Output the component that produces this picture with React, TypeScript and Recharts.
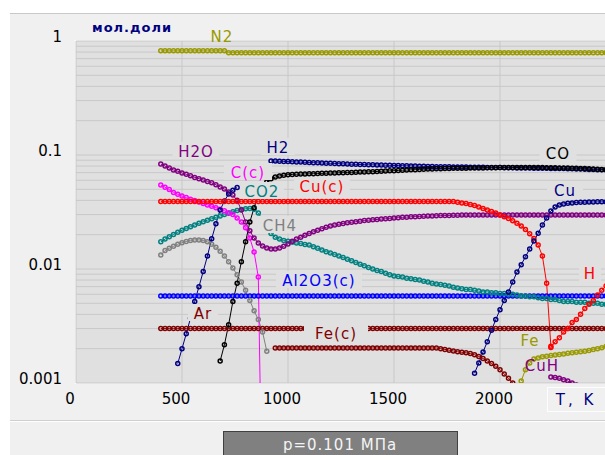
import { LineChart, Line, XAxis, YAxis, CartesianGrid } from "recharts";

// temperature grid, K (step 20)
const temps = [
  400, 420, 440, 460, 480, 500, 520, 540, 560, 580,
  600, 620, 640, 660, 680, 700, 720, 740, 760, 780,
  800, 820, 840, 860, 880, 900, 920, 940, 960, 980,
  1000, 1020, 1040, 1060, 1080, 1100, 1120, 1140, 1160, 1180,
  1200, 1220, 1240, 1260, 1280, 1300, 1320, 1340, 1360, 1380,
  1400, 1420, 1440, 1460, 1480, 1500, 1520, 1540, 1560, 1580,
  1600, 1620, 1640, 1660, 1680, 1700, 1720, 1740, 1760, 1780,
  1800, 1820, 1840, 1860, 1880, 1900, 1920, 1940, 1960, 1980,
  2000, 2020, 2040, 2060, 2080, 2100, 2120, 2140, 2160, 2180,
  2200, 2220, 2240, 2260, 2280, 2300, 2320, 2340, 2360, 2380,
  2400, 2420, 2440, 2460, 2480, 2500,
];

// mole fractions; each list starts at its own temperature and follows the grid
const n2 = [
  0.82, 0.82, 0.82, 0.82, 0.82, 0.82, 0.82, 0.82, 0.82, 0.82,
  0.82, 0.82, 0.82, 0.82, 0.82, 0.82, 0.79, 0.79, 0.79, 0.79,
  0.79, 0.79, 0.79, 0.79, 0.79, 0.79, 0.79, 0.79, 0.79, 0.79,
  0.79, 0.79, 0.79, 0.79, 0.79, 0.79, 0.79, 0.79, 0.79, 0.79,
  0.79, 0.79, 0.79, 0.79, 0.79, 0.79, 0.79, 0.79, 0.79, 0.79,
  0.79, 0.79, 0.79, 0.79, 0.79, 0.79, 0.79, 0.79, 0.79, 0.79,
  0.79, 0.79, 0.79, 0.79, 0.79, 0.79, 0.79, 0.79, 0.79, 0.79,
  0.79, 0.79, 0.79, 0.79, 0.79, 0.79, 0.79, 0.79, 0.79, 0.79,
  0.79, 0.79, 0.79, 0.79, 0.79, 0.79, 0.79, 0.79, 0.79, 0.79,
  0.79, 0.79, 0.79, 0.79, 0.79, 0.79, 0.79, 0.79, 0.79, 0.79,
  0.79, 0.79, 0.79, 0.79, 0.79, 0.79,
];

const h2o = [
  0.0834, 0.08, 0.077, 0.074, 0.072, 0.0695, 0.0677, 0.0656, 0.0636, 0.062,
  0.0604, 0.0587, 0.057, 0.0548, 0.0525, 0.0503, 0.0473, 0.0445, 0.04, 0.0329,
  0.0258, 0.0216, 0.0187, 0.0169, 0.0159, 0.0153, 0.015, 0.015, 0.0153, 0.0158,
  0.0166, 0.0175, 0.0183, 0.019, 0.0198, 0.0205, 0.0212, 0.0219, 0.0226, 0.0232,
  0.0238, 0.0243, 0.0247, 0.0251, 0.0254, 0.0257, 0.026, 0.0263, 0.0266, 0.0268,
  0.027, 0.0272, 0.0274, 0.0276, 0.0278, 0.028, 0.0282, 0.0284, 0.0285, 0.0287,
  0.0288, 0.0289, 0.029, 0.0291, 0.0292, 0.0293, 0.0294, 0.0295, 0.0295, 0.0296,
  0.0296, 0.0297, 0.0297, 0.0297, 0.0297, 0.0297, 0.0297, 0.0297, 0.0297, 0.0297,
  0.0297, 0.0297, 0.0297, 0.0297, 0.0297, 0.0297, 0.0297, 0.0297, 0.0297, 0.0297,
  0.0297, 0.0297, 0.0297, 0.0297, 0.0297, 0.0297, 0.0297, 0.0297, 0.0297, 0.0297,
  0.0297, 0.0297, 0.0297, 0.0297, 0.0297, 0.0297,
];

// from 480 K, gap 780-900 K
const h2 = [
  0.00148, 0.002, 0.0027, 0.0037, 0.0052, 0.007, 0.0095, 0.013, 0.0184, 0.0249,
  0.033, 0.0394, 0.0455, 0.049, 0.052,
  null, null, null, null, null, null, null,
  0.0886, 0.0884, 0.0881, 0.0878, 0.0875,
  0.0872, 0.0869, 0.0866, 0.0863, 0.086, 0.0857, 0.0854, 0.0851, 0.0848, 0.0845,
  0.0842, 0.0839, 0.0836, 0.0833, 0.083, 0.0828, 0.0826, 0.0824, 0.0822, 0.082,
  0.0818, 0.0816, 0.0814, 0.0812, 0.081, 0.0808, 0.0806, 0.0804, 0.0802, 0.08,
  0.0798, 0.0796, 0.0794, 0.0792, 0.079, 0.0789, 0.0788, 0.0787, 0.0786, 0.0785,
  0.0784, 0.0783, 0.0782, 0.0781, 0.078, 0.0779, 0.0778, 0.0777, 0.0776, 0.0775,
  0.0774, 0.0773, 0.0772, 0.0771, 0.077, 0.0769, 0.0768, 0.0767, 0.0766, 0.0765,
  0.0764, 0.0763, 0.0762, 0.0761, 0.076, 0.0758, 0.0756, 0.0754, 0.0752, 0.075,
  0.0748, 0.0746, 0.0744, 0.0742, 0.074,
];

const carbon = [
  0.0546, 0.0522, 0.0497, 0.047, 0.0452, 0.0436, 0.0423, 0.041, 0.0399, 0.0387,
  0.0376, 0.0365, 0.0355, 0.0345, 0.0335, 0.0325, 0.0311, 0.03, 0.028, 0.0258,
  0.023, 0.0187, 0.0141, 0.0085, 0.00005,
];

const co2 = [
  0.0173, 0.0183, 0.0192, 0.0201, 0.021, 0.0219, 0.0227, 0.0235, 0.0243, 0.0252,
  0.026, 0.0268, 0.0276, 0.0284, 0.0292, 0.03, 0.0309, 0.0318, 0.0326, 0.0333,
  0.0338, 0.034, 0.0334, 0.031, 0.027, 0.023, 0.0205, 0.019, 0.0183, 0.0178,
  0.0175, 0.0172, 0.0169, 0.0167, 0.0164, 0.0162, 0.0157, 0.0152, 0.0147, 0.0142,
  0.0138, 0.0134, 0.013, 0.0126, 0.0122, 0.0118, 0.0114, 0.011, 0.0107, 0.0103,
  0.01, 0.0097, 0.0095, 0.0092, 0.0089, 0.0087, 0.0086, 0.0085, 0.0083, 0.0082,
  0.0081, 0.008, 0.0078, 0.0077, 0.0075, 0.0074, 0.0073, 0.0072, 0.0071, 0.0069,
  0.0068, 0.0067, 0.0066, 0.0066, 0.0065, 0.0064, 0.0063, 0.0063, 0.0062, 0.0062,
  0.0061, 0.0061, 0.006, 0.006, 0.0059, 0.0058, 0.0058, 0.0057, 0.0057, 0.0056,
  0.0055, 0.0055, 0.0054, 0.0054, 0.0053, 0.0052, 0.0052, 0.0052, 0.0051, 0.0051,
  0.0051, 0.005, 0.005, 0.005, 0.0049, 0.0049,
];

const cuCond = [
  0.039, 0.039, 0.039, 0.039, 0.039, 0.039, 0.039, 0.039, 0.039, 0.039,
  0.039, 0.039, 0.039, 0.039, 0.039, 0.039, 0.039, 0.039, 0.039, 0.039,
  0.039, 0.039, 0.039, 0.039, 0.039, 0.039, 0.039, 0.039, 0.039, 0.039,
  0.039, 0.039, 0.039, 0.039, 0.039, 0.039, 0.039, 0.039, 0.039, 0.039,
  0.039, 0.039, 0.039, 0.039, 0.039, 0.039, 0.039, 0.039, 0.039, 0.039,
  0.039, 0.039, 0.039, 0.039, 0.039, 0.039, 0.039, 0.039, 0.039, 0.039,
  0.039, 0.039, 0.039, 0.039, 0.039, 0.039, 0.039, 0.039, 0.039, 0.039,
  0.0385, 0.038, 0.0375, 0.0368, 0.036, 0.035, 0.034, 0.033, 0.032, 0.031,
  0.0298, 0.0288, 0.0278, 0.0265, 0.0252, 0.0238, 0.0222, 0.0204, 0.0185, 0.0162,
  0.013, 0.0075, 0.0021,
];

const co = [
  0.00156, 0.00216, 0.00325, 0.0052, 0.0075, 0.0116, 0.0173, 0.0258, 0.0345, 0.044,
  0.052, 0.058, 0.062, 0.064, 0.0655, 0.0665,
  0.0672, 0.0675, 0.0678, 0.068, 0.0682, 0.0684, 0.0686, 0.0688, 0.069, 0.0692,
  0.0694, 0.0696, 0.0698, 0.07, 0.0702, 0.0704, 0.0706, 0.0708, 0.071, 0.0712,
  0.0714, 0.0717, 0.072, 0.0723, 0.0726, 0.0729, 0.0732, 0.0735, 0.0738, 0.0741,
  0.0744, 0.0747, 0.075, 0.0752, 0.0754, 0.0756, 0.0758, 0.076, 0.0762, 0.0764,
  0.0765, 0.0766, 0.0767, 0.0768, 0.0769, 0.077, 0.0771, 0.0772, 0.0773, 0.0774,
  0.0775, 0.0776, 0.0776, 0.0777, 0.0777, 0.0777, 0.0777, 0.0777, 0.0776, 0.0776,
  0.0775, 0.0774, 0.0773, 0.0772, 0.0771, 0.077, 0.0768, 0.0766, 0.0764, 0.0762,
  0.076, 0.0757, 0.0754, 0.0751, 0.0748, 0.0745,
];

const cu = [
  0.00122, 0.0015, 0.00187, 0.0023, 0.0029, 0.0036,
  0.0044, 0.0053, 0.0063, 0.0077, 0.0094, 0.0109, 0.0128, 0.015, 0.0176, 0.0206,
  0.0243, 0.028, 0.0322, 0.035, 0.0365, 0.0372, 0.0377, 0.038, 0.0383, 0.0385,
  0.0386, 0.0387, 0.0387, 0.0388, 0.0388, 0.0388,
];

const ch4 = [
  0.0133, 0.0145, 0.0152, 0.0158, 0.0165, 0.017, 0.0174, 0.0178, 0.018, 0.018,
  0.0178, 0.0173, 0.0165, 0.0155, 0.0143, 0.013, 0.0116, 0.0102, 0.0089, 0.0077,
  0.0065, 0.0053, 0.0043, 0.0036, 0.0028, 0.0019,
];

const al2o3 = [
  0.0058, 0.0058, 0.0058, 0.0058, 0.0058, 0.0058, 0.0058, 0.0058, 0.0058, 0.0058,
  0.0058, 0.0058, 0.0058, 0.0058, 0.0058, 0.0058, 0.0058, 0.0058, 0.0058, 0.0058,
  0.0058, 0.0058, 0.0058, 0.0058, 0.0058, 0.0058, 0.0058, 0.0058, 0.0058, 0.0058,
  0.0058, 0.0058, 0.0058, 0.0058, 0.0058, 0.0058, 0.0058, 0.0058, 0.0058, 0.0058,
  0.0058, 0.0058, 0.0058, 0.0058, 0.0058, 0.0058, 0.0058, 0.0058, 0.0058, 0.0058,
  0.0058, 0.0058, 0.0058, 0.0058, 0.0058, 0.0058, 0.0058, 0.0058, 0.0058, 0.0058,
  0.0058, 0.0058, 0.0058, 0.0058, 0.0058, 0.0058, 0.0058, 0.0058, 0.0058, 0.0058,
  0.0058, 0.0058, 0.0058, 0.0058, 0.0058, 0.0058, 0.0058, 0.0058, 0.0058, 0.0058,
  0.0058, 0.0058, 0.0058, 0.0058, 0.0058, 0.0058, 0.0058, 0.0058, 0.0058, 0.0058,
  0.0058, 0.0058, 0.0058, 0.0058, 0.0058, 0.0058, 0.0058, 0.0058, 0.0058, 0.0058,
  0.0058, 0.0058, 0.0058, 0.0058, 0.0058, 0.0058,
];

const ar = [
  0.003, 0.003, 0.003, 0.003, 0.003, 0.003, 0.003, 0.003, 0.003, 0.003,
  0.003, 0.003, 0.003, 0.003, 0.003, 0.003, 0.003, 0.003, 0.003, 0.003,
  0.003, 0.003, 0.003, 0.003, 0.003, 0.003, 0.003, 0.003, 0.003, 0.003,
  0.003, 0.003, 0.003, 0.003, 0.003, 0.003, 0.003, 0.003, 0.003, 0.003,
  0.003, 0.003, 0.003, 0.003, 0.003, 0.003, 0.003, 0.003, 0.003, 0.003,
  0.003, 0.003, 0.003, 0.003, 0.003, 0.003, 0.003, 0.003, 0.003, 0.003,
  0.003, 0.003, 0.003, 0.003, 0.003, 0.003, 0.003, 0.003, 0.003, 0.003,
  0.003, 0.003, 0.003, 0.003, 0.003, 0.003, 0.003, 0.003, 0.003, 0.003,
  0.003, 0.003, 0.003, 0.003, 0.003, 0.003, 0.003, 0.003, 0.003, 0.003,
  0.003, 0.003, 0.003, 0.003, 0.003, 0.003, 0.003, 0.003, 0.003, 0.003,
  0.003, 0.003, 0.003, 0.003, 0.003, 0.003,
];

const feCond = [
  0.00203, 0.00203, 0.00203, 0.00203, 0.00203, 0.00203, 0.00203, 0.00203, 0.00203, 0.00203,
  0.00203, 0.00203, 0.00203, 0.00203, 0.00203, 0.00203, 0.00203, 0.00203, 0.00203, 0.00203,
  0.00203, 0.00203, 0.00203, 0.00203, 0.00203, 0.00203, 0.00203, 0.00203, 0.00203, 0.00203,
  0.00203, 0.00203, 0.00203, 0.00203, 0.00203, 0.00203, 0.00203, 0.00203, 0.00203,
  0.002, 0.00197, 0.00194, 0.00191, 0.00188, 0.00186, 0.00184, 0.00181, 0.00177,
  0.00171, 0.00164, 0.00156, 0.00148, 0.0014, 0.00131, 0.0012, 0.0011, 0.001,
];

const fe = [
  0.00104, 0.00131, 0.0015, 0.00162, 0.00166, 0.0017, 0.00172, 0.00174, 0.00176, 0.00178,
  0.0018, 0.00182, 0.00184, 0.00186, 0.00188, 0.0019, 0.00193, 0.00197, 0.002, 0.00204,
  0.0021,
];

const cuh = [0.00113, 0.00112, 0.0011, 0.00107, 0.00104, 0.001, 0.00096];

const hAtom = [
  0.00205, 0.0023, 0.0025, 0.0028, 0.003, 0.0034, 0.0036, 0.004, 0.0045, 0.0049,
  0.0053, 0.0059, 0.0065, 0.0071,
];

const species = [
  { key: "n2", from: 400, values: n2, color: "#999900" },
  { key: "ar", from: 400, values: ar, color: "#800000" },
  { key: "feCond", from: 940, values: feCond, color: "#800000" },
  { key: "al2o3", from: 400, values: al2o3, color: "#0000ff" },
  { key: "ch4", from: 400, values: ch4, color: "#808080" },
  { key: "co2", from: 400, values: co2, color: "#008080" },
  { key: "carbon", from: 400, values: carbon, color: "#ff00ff" },
  { key: "h2o", from: 400, values: h2o, color: "#800080" },
  { key: "h2", from: 480, values: h2, color: "#000080" },
  { key: "co", from: 680, values: co, color: "#000000" },
  { key: "cuCond", from: 400, values: cuCond, color: "#ff0000" },
  { key: "hAtom", from: 2240, values: hAtom, color: "#ff0000" },
  { key: "cu", from: 1880, values: cu, color: "#000080" },
  { key: "fe", from: 2100, values: fe, color: "#999900" },
  { key: "cuh", from: 2240, values: cuh, color: "#800080" },
];

const labels = [
  { text: "N2", color: "#999900", cx: 222, cy: 36, w: 0 },
  { text: "H2O", color: "#800080", cx: 196, cy: 151, w: 47 },
  { text: "H2", color: "#000080", cx: 278, cy: 147, w: 34 },
  { text: "C(c)", color: "#ff00ff", cx: 248, cy: 172, w: 48 },
  { text: "CO2", color: "#008080", cx: 262, cy: 191, w: 44 },
  { text: "Cu(c)", color: "#ff0000", cx: 322, cy: 186, w: 56 },
  { text: "CO", color: "#000000", cx: 558, cy: 153, w: 37 },
  { text: "Cu", color: "#000080", cx: 565, cy: 190, w: 36 },
  { text: "CH4", color: "#808080", cx: 280, cy: 225, w: 44 },
  { text: "Al2O3(c)", color: "#0000ff", cx: 319, cy: 280, w: 86 },
  { text: "Ar", color: "#800000", cx: 203, cy: 313, w: 30 },
  { text: "Fe(c)", color: "#800000", cx: 336, cy: 333, w: 64 },
  { text: "H", color: "#ff0000", cx: 590, cy: 273, w: 22 },
  { text: "Fe", color: "#999900", cx: 530, cy: 340, w: 34 },
  { text: "CuH", color: "#800080", cx: 542, cy: 365, w: 0 },
];

const xTicks = [0, 500, 1000, 1500, 2000];
const yTicks = [
  0.001, 0.002, 0.003, 0.004, 0.005, 0.006, 0.007, 0.008, 0.009,
  0.01, 0.02, 0.03, 0.04, 0.05, 0.06, 0.07, 0.08, 0.09,
  0.1, 0.2, 0.3, 0.4, 0.5, 0.6, 0.7, 0.8, 0.9, 1,
];
const decades = [0.001, 0.01, 0.1, 1];

const step = 20;
const rows = temps.map((t) => {
  const row: Record<string, number | null> = { t };
  for (const s of species) {
    const i = (t - s.from) / step;
    row[s.key] = i >= 0 && i < s.values.length ? s.values[i] : null;
  }
  return row;
});

const FONT = "DejaVu Sans";

function YTick({ x, y, payload }: any) {
  if (!decades.includes(payload.value)) return <g />;
  return (
    <text x={x} y={y + 1} textAnchor="end" fontSize={15} fontFamily={FONT} fill="#000">
      {String(payload.value)}
    </text>
  );
}

function XTick({ x, y, payload }: any) {
  return (
    <text x={x - 6} y={y + 21} textAnchor="middle" fontSize={15} fontFamily={FONT} fill="#000">
      {payload.value}
    </text>
  );
}

export default function App() {
  return (
    <div style={{ position: "relative", width: 605, height: 455, overflow: "hidden", background: "#fff" }}>
      <style>{"body{margin:0}"}</style>
      <div
        style={{
          position: "absolute",
          left: 10,
          top: 13,
          width: 600,
          height: 450,
          background: "#f0f0f0",
          borderTop: "1px solid #c8c8c8",
        }}
      />
      <div style={{ position: "absolute", left: 10, top: 420, width: 600, height: 1, background: "#cfcfcf" }} />
      <div style={{ position: "absolute", left: 10, top: 421, width: 600, height: 1, background: "#ffffff" }} />
      <div
        style={{
          position: "absolute",
          left: 75,
          top: 40,
          width: 540,
          height: 342,
          background: "#e0e0e0",
          border: "1px solid #ffffff",
        }}
      />
      <div style={{ position: "absolute", left: 0, top: 0 }}>
        <LineChart width={620} height={455} data={rows} margin={{ top: 41, right: 14, left: 0, bottom: 42 }}>
          <CartesianGrid stroke="#c8c8c8" />
          <XAxis
            dataKey="t"
            type="number"
            domain={[0, 2500]}
            ticks={xTicks}
            axisLine={false}
            tickLine={false}
            tickSize={0}
            tickMargin={0}
            height={30}
            tick={XTick}
            interval={0}
          />
          <YAxis
            scale="log"
            domain={[0.001, 1]}
            ticks={yTicks}
            allowDataOverflow
            axisLine={false}
            tickLine={false}
            tickSize={0}
            tickMargin={14}
            width={76}
            tick={YTick}
            interval={0}
          />
          {species.map((s) => (
            <Line
              key={s.key}
              dataKey={s.key}
              stroke={s.color}
              strokeWidth={1}
              dot={{ r: 2, strokeWidth: 1.5, fill: "none", stroke: s.color }}
              activeDot={false}
              isAnimationActive={false}
              connectNulls={false}
            />
          ))}
        </LineChart>
      </div>
      <svg
        width={605}
        height={455}
        style={{ position: "absolute", left: 0, top: 0, pointerEvents: "none" }}
        fontFamily={FONT}
      >
        {labels.map((l) => (
          <g key={l.text}>
            {l.w > 0 && <rect x={l.cx - l.w / 2} y={l.cy - 9} width={l.w} height={17} fill="#e0e0e0" />}
            <text x={l.cx} y={l.cy + 5.5} textAnchor="middle" fontSize={15} letterSpacing={1} fill={l.color}>
              {l.text}
            </text>
          </g>
        ))}
        <text x={92} y={32} fontSize={13} fontWeight="bold" letterSpacing={1} fill="#000080">
          мол.доли
        </text>
        <rect x={547.5} y={387.5} width={62} height={24} fill="#f0f0f0" stroke="#fdfdfd" />
        <text x={576} y={405} textAnchor="middle" fontSize={15} letterSpacing={3} fill="#000080">
          T, K
        </text>
        <rect x={223.5} y={431.5} width={234} height={30} fill="#808080" stroke="#404040" />
        <text x={340} y={450} textAnchor="middle" fontSize={15} letterSpacing={1} fill="#f4f4f4">
          p=0.101 МПа
        </text>
      </svg>
    </div>
  );
}
